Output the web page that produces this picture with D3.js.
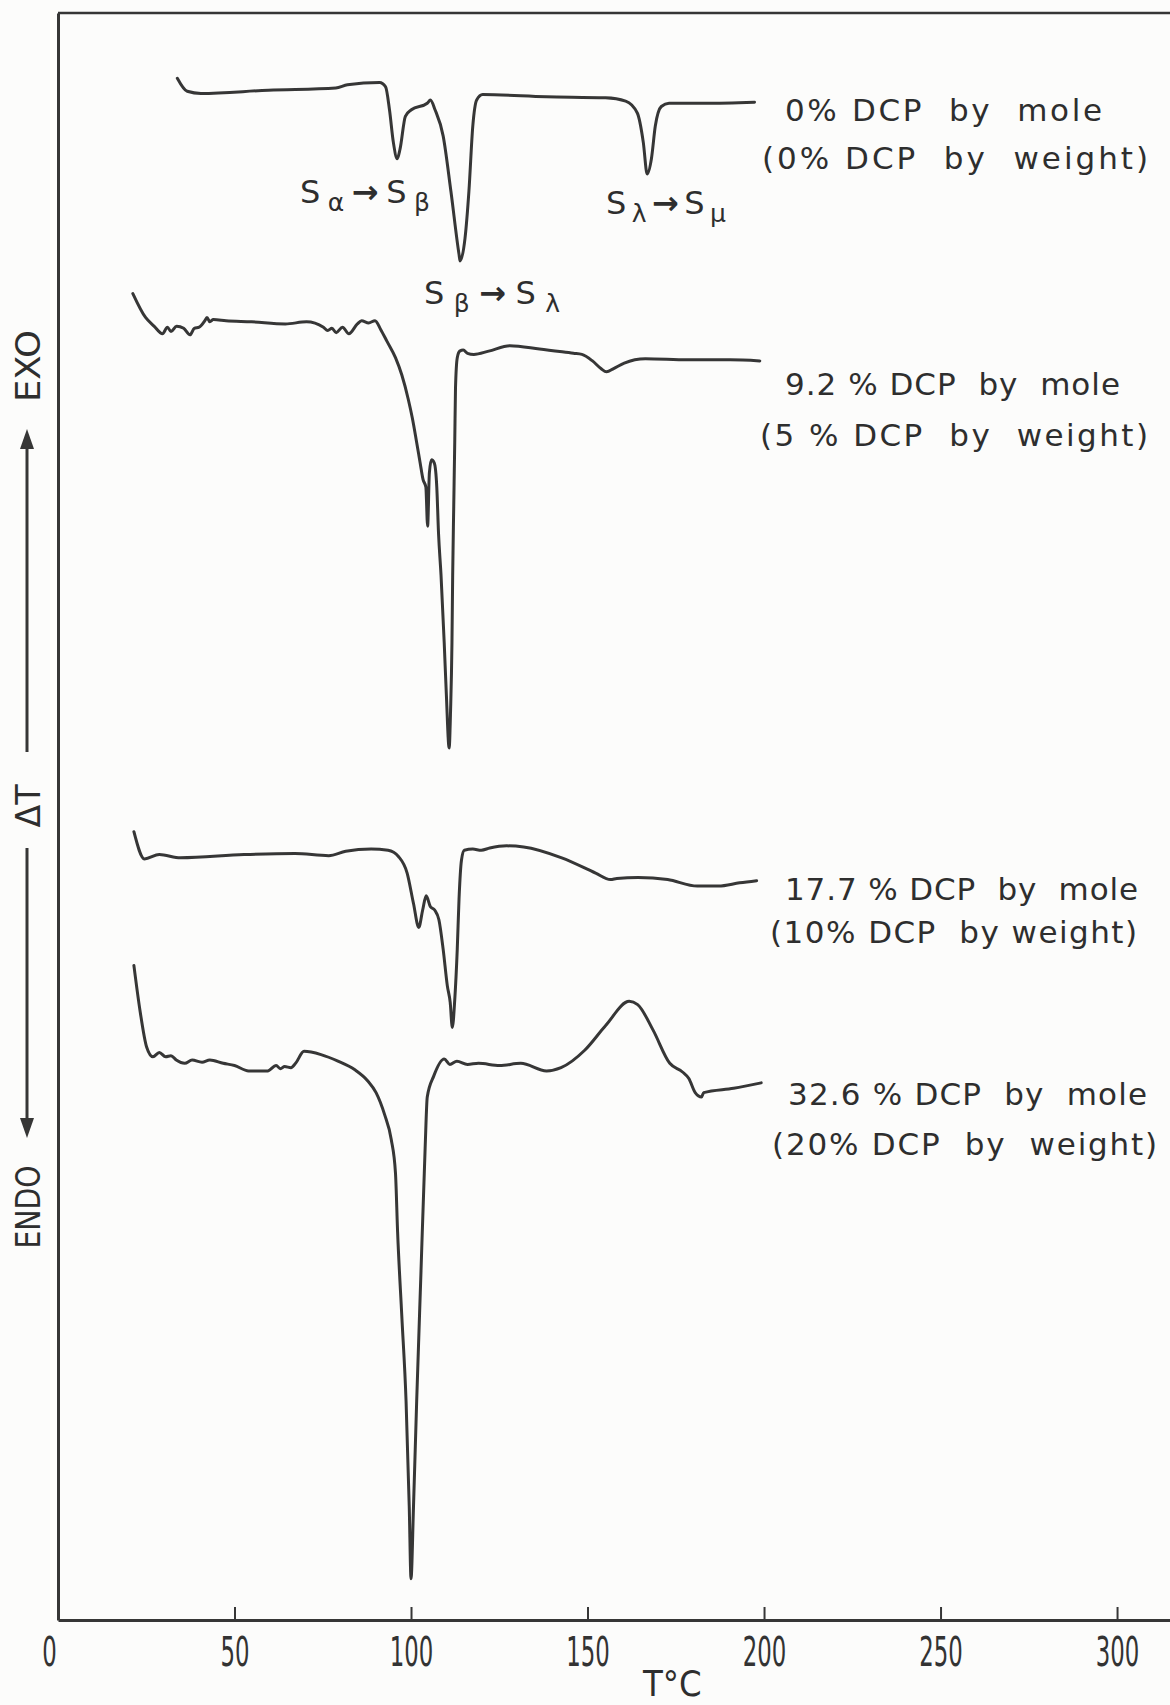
<!DOCTYPE html>
<html>
<head>
<meta charset="utf-8">
<script src="https://cdn.jsdelivr.net/npm/d3@7/dist/d3.min.js"></script>
<style>
	body { margin: 0; background: #fcfcfb; }
	svg { display: block; }
	text { fill: #2e2e2e; }
	.curve { fill: none; stroke: #363636; stroke-width: 3; stroke-linejoin: round; stroke-linecap: round; }
	.axis path, .axis line { stroke: #363636; }
	.label { font-family: "DejaVu Sans", sans-serif; font-size: 31px; white-space: pre; }
	.note { font-family: "DejaVu Sans", sans-serif; font-size: 32px; }
	.tick text { font-family: "Liberation Sans Narrow", "DejaVu Sans Condensed", "DejaVu Sans", sans-serif; font-size: 40px; fill: #333; }
</style>
</head>
<body>
<script>
// DTA traces of sulfur / DCP mixtures, T in degC, deflection in chart units
var curve0 = [[33.8,141.8],[36.6,140.6],[40.5,140.4],[59.6,140.7],[78.7,140.9],[82.0,141.2],[91.1,141.4],[92.8,141.0],
	[93.9,138.9],[95.0,135.9],[96.1,134.4],[96.9,135.3],[98.4,138.3],[100.1,138.9],[104.6,139.5],[105.5,139.8],
	[106.8,138.9],[109.1,136.5],[111.3,131.4],[113.6,125.6],[113.9,125.0],[115.3,127.1],[116.4,131.4],[117.5,137.4],
	[118.6,139.8],[120.3,140.3],[138.3,140.1],[155.1,140.0],[160.8,139.7],[164.1,138.6],[165.8,135.9],[166.9,133.0],
	[168.1,134.4],[169.2,137.4],[170.9,139.2],[173.1,139.5],[183.2,139.5],[197.3,139.6]];

var curve1 = [[21.2,122.0],[24.8,119.8],[27.2,119.0],[29.6,118.3],[31.0,118.9],[32.0,118.5],[33.6,119.0],[35.6,118.8],[37.4,118.2],[38.6,118.8],
	[40.0,118.9],[41.6,119.5],[42.2,119.8],[43.0,119.4],[44.0,119.6],[47.6,119.5],[54.8,119.4],[64.4,119.2],[70.4,119.4],[75.2,118.9],
	[76.4,118.6],[77.6,118.8],[78.8,118.4],[80.6,118.9],[82.4,118.3],[84.8,119.2],[86.0,119.5],[88.0,119.3],[89.8,119.5],
	[91.4,118.7],[93.2,117.6],[95.6,116.1],[97.4,114.5],[99.2,112.3],[100.4,110.5],[101.6,108.3],[102.6,106.4],
	[103.4,104.9],[104.2,104.2],[104.7,100.6],[105.2,105.5],[105.8,106.7],[106.6,106.4],[107.3,104.2],[107.8,99.9],
	[108.5,96.1],[109.4,89.9],[110.0,85.2],[110.8,80.2],[111.2,83.6],[111.6,89.9],[111.8,96.1],[112.1,102.4],
	[112.4,108.6],[112.6,113.3],[113.1,116.1],[113.8,116.7],[114.8,116.8],[116.0,116.5],[117.8,116.4],[122.0,116.7],
	[128.0,117.2],[136.4,116.9],[146.0,116.5],[148.4,116.4],[151.4,115.8],[153.8,115.1],[155.4,114.8],[157.4,115.1],
	[160.4,115.6],[166.4,116.0],[178.4,115.9],[190.4,115.9],[198.8,115.8]];

var curve2 = [[21.5,72.5],[24.5,70.0],[28.7,70.4],[34.7,70.1],[52.7,70.4],[67.1,70.5],[76.7,70.3],[81.5,70.7],
	[88.7,70.9],[93.5,70.8],[96.5,70.2],[98.9,68.7],[100.7,65.9],[102.2,63.7],[103.3,65.3],[104.3,66.6],
	[105.5,65.6],[106.7,65.3],[107.9,64.4],[109.1,61.7],[110.3,58.3],[111.1,56.8],[111.7,54.5],[112.4,57.1],
	[113.1,61.7],[113.6,66.3],[114.3,69.9],[115.1,70.8],[117.5,70.9],[119.9,70.8],[122.3,71.0],[127.1,71.2],
	[131.9,71.1],[142.7,70.1],[152.3,68.7],[156.5,68.1],[158.3,68.2],[164.3,68.3],[172.7,68.1],[181.1,67.5],
	[187.1,67.5],[193.1,67.8],[197.9,68.0]];

var curve3 = [[21.5,60.2],[23.3,55.9],[25.1,52.7],[26.9,51.8],[28.7,52.2],[30.5,51.8],[32.0,51.9],[33.5,51.5],[35.9,51.2],
	[38.0,51.5],[40.8,51.3],[43.0,51.5],[46.8,51.2],[50.0,51.0],[54.0,50.5],[59.4,50.5],[61.8,51.0],[63.0,50.7],[64.2,50.9],[66.0,50.8],[67.3,51.2],[69.7,52.3],
	[74.5,52.0],[79.3,51.4],[84.1,50.6],[87.7,49.6],[90.1,48.5],[92.5,46.5],[94.4,44.2],[95.6,41.1],
	[96.2,35.7],[97.4,27.9],[98.6,20.1],[99.5,10.4],[100.0,3.8],[100.7,10.4],[101.6,20.1],[102.8,31.8],
	[104.0,43.4],[104.6,48.1],[106.4,50.0],[109.4,51.6],[111.0,51.1],[113.0,51.4],[116.0,51.1],[119.1,51.2],[125.1,51.0],[131.1,51.2],
	[138.4,50.5],[142.5,50.8],[149.2,52.4],[155.2,54.7],[161.8,56.9],[164.2,56.6],[168.5,54.3],[173.3,51.2],
	[176.9,50.4],[178.7,49.8],[180.5,48.5],[182.3,48.1],[182.9,48.5],[191.4,48.9],[199.2,49.4]];

var curves = [curve0, curve1, curve2, curve3];

var sampleLabels = [
	["0% DCP  by  mole", "(0% DCP  by  weight)"],
	["9.2 % DCP  by  mole", "(5 % DCP  by  weight)"],
	["17.7 % DCP  by  mole", "(10% DCP  by weight)"],
	["32.6 % DCP  by  mole", "(20% DCP  by  weight)"]
];

// transitions marked on the pure sulfur trace
var transitions = [["α", "β"], ["β", "λ"], ["λ", "μ"]];

var tempTicks = [0, 50, 100, 150, 200, 250, 300];

// layout (pixels)
var labelPos = [
	[[785, 1102, 121], [762, 1148, 169]],
	[[785, 1120, 395], [760, 1148, 446]],
	[[785, 1138, 900], [770, 1137, 943]],
	[[788, 1147, 1105], [772, 1157, 1155]]
];
var notePos = [[300, 430, 203], [424, 560, 304], [606, 726, 214]];

var W = 1170, H = 1705;

var x = d3.scaleLinear().domain([0, 315]).range([58, W]);
var y = d3.scaleLinear().domain([0, 147.8]).range([1620, 13]);

var svg = d3.select("body").append("svg")
	.attr("width", W)
	.attr("height", H);

// frame: top edge
svg.append("line")
	.attr("x1", x(0)).attr("x2", W)
	.attr("y1", y(147.8)).attr("y2", y(147.8))
	.attr("stroke", "#363636")
	.attr("stroke-width", 2.5);

svg.append("g")
	.attr("class", "axis")
	.attr("transform", "translate(" + x(0) + ",0)")
	.call(d3.axisLeft(y).tickValues([]).tickSizeOuter(0))
	.select(".domain").attr("stroke-width", 3);

var xAxis = svg.append("g")
	.attr("class", "axis")
	.attr("transform", "translate(0," + y(0) + ")")
	.call(d3.axisBottom(x).tickValues(tempTicks).tickSizeInner(-13).tickSizeOuter(0).tickPadding(18));

xAxis.select(".domain").attr("stroke-width", 3);
xAxis.selectAll(".tick line").attr("stroke-width", 2);
xAxis.selectAll(".tick text")
	.attr("dx", function(d) { return d === 0 ? -9 : 0; })
	.attr("textLength", function(d) { return String(d).length * 14.5; })
	.attr("lengthAdjust", "spacingAndGlyphs");

svg.append("text")
	.attr("x", x(174))
	.attr("y", 1696)
	.attr("text-anchor", "middle")
	.style("font-family", "'Liberation Sans Narrow', 'DejaVu Sans Condensed', sans-serif")
	.style("font-size", "36px")
	.text("T°C");

// y label: ENDO <--- ΔT ---> EXO
var ylab = svg.append("g").attr("class", "ylab");
var yl = [["EXO", 366, 72], ["ΔT", 806, 43], ["ENDO", 1207, 83]];
ylab.selectAll("text")
	.data(yl)
	.enter()
	.append("text")
	.attr("transform", function(d) { return "translate(28," + d[1] + ") rotate(-90)"; })
	.attr("text-anchor", "middle")
	.attr("dy", "0.36em")
	.attr("textLength", function(d) { return d[2]; })
	.attr("lengthAdjust", "spacingAndGlyphs")
	.style("font-family", "'DejaVu Sans Condensed', 'DejaVu Sans', sans-serif")
	.style("font-size", "34px")
	.text(function(d) { return d[0]; });

ylab.append("line")
	.attr("x1", 27).attr("x2", 27).attr("y1", 752).attr("y2", 444)
	.attr("stroke", "#363636").attr("stroke-width", 3);
ylab.append("line")
	.attr("x1", 27).attr("x2", 27).attr("y1", 848).attr("y2", 1122)
	.attr("stroke", "#363636").attr("stroke-width", 3);
ylab.append("path")
	.attr("d", "M27,429 L34,449 L20,449 Z")
	.attr("fill", "#363636");
ylab.append("path")
	.attr("d", "M27,1138 L34,1118 L20,1118 Z")
	.attr("fill", "#363636");

// traces
var line = d3.line()
	.x(function(d) { return x(d[0]); })
	.y(function(d) { return y(d[1]); })
	.curve(d3.curveMonotoneX);

svg.selectAll(".curve")
	.data(curves)
	.enter()
	.append("path")
	.attr("class", "curve")
	.attr("d", line);

// sample labels
sampleLabels.forEach(function(pair, i) {
	pair.forEach(function(txt, j) {
		var p = labelPos[i][j];
		svg.append("text")
			.attr("class", "label")
			.attr("x", p[0])
			.attr("y", p[2])
			.attr("textLength", p[1] - p[0])
			.attr("lengthAdjust", "spacing")
			.text(txt);
	});
});

// transition notes
transitions.forEach(function(t, i) {
	var p = notePos[i];
	var note = svg.append("text")
		.attr("class", "note")
		.attr("x", p[0])
		.attr("y", p[2])
		.attr("textLength", p[1] - p[0])
		.attr("lengthAdjust", "spacing");
	note.append("tspan").text("S");
	note.append("tspan").attr("dy", 8).style("font-size", "25px").text(t[0]);
	note.append("tspan").attr("dy", -8).style("font-weight", "bold").text("→");
	note.append("tspan").text("S");
	note.append("tspan").attr("dy", 8).style("font-size", "25px").text(t[1]);
});
</script>
</body>
</html>
